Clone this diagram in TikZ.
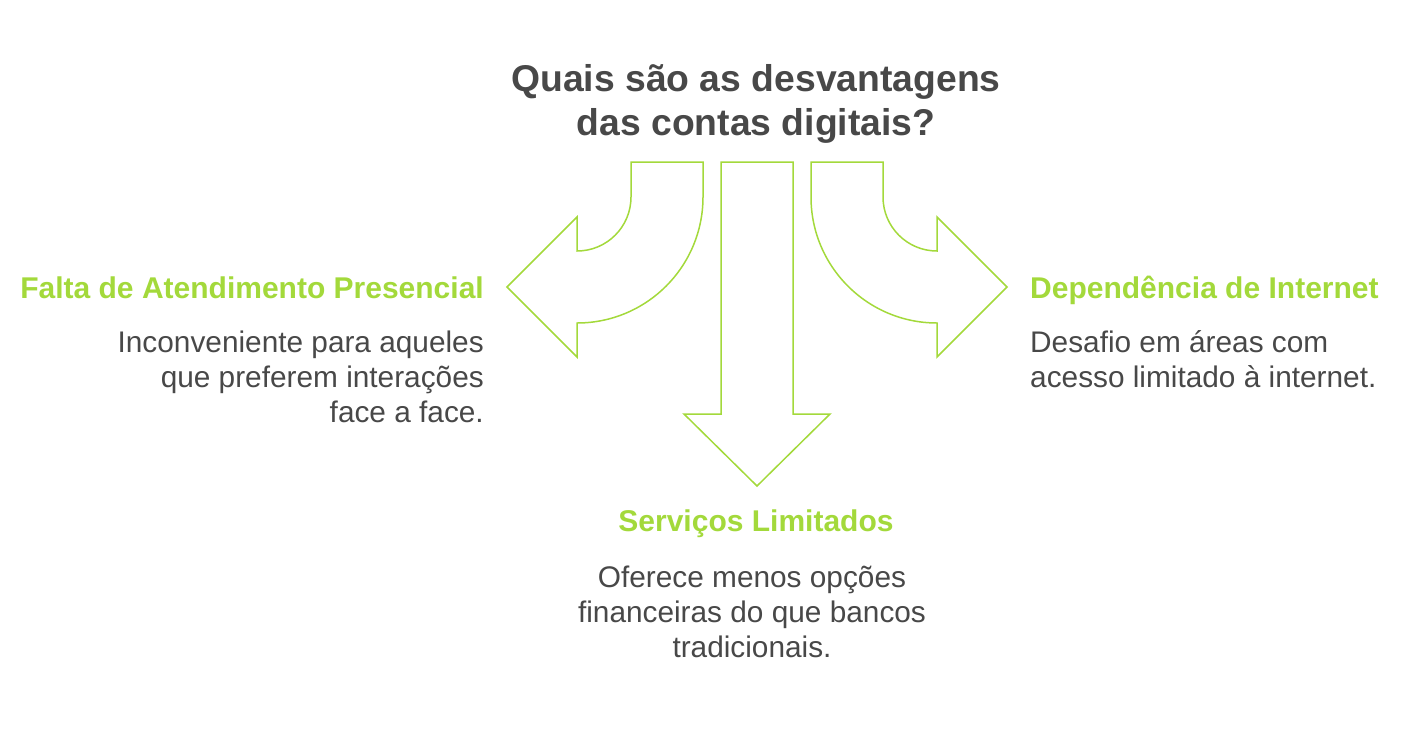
\documentclass[tikz,border=0pt]{standalone}
\usepackage{fontspec}
\setmainfont{Liberation Sans}
\usepackage{tikz}
\usetikzlibrary{calc}
\definecolor{leaf}{HTML}{A3D93B}
\definecolor{ink}{HTML}{484848}

\begin{document}
\begin{tikzpicture}[x=1pt,y=1pt,
  arrowshape/.style={draw=leaf,line width=1.5pt,line join=miter},
  title/.style={inner sep=0pt,text=ink,font=\fontsize{37.3}{44}\selectfont\bfseries,align=center},
  head/.style={inner sep=0pt,text=leaf,font=\fontsize{30}{35}\selectfont\bfseries},
  desc/.style={inner sep=0pt,text=ink,font=\fontsize{29.8}{35}\selectfont}]
  \useasboundingbox (0,0) rectangle (1424,-740);
  % question
  \node[title,anchor=base] (q) at (756,-135) {Quais são as desvantagens\\das contas digitais?};
  % left arrow
  \draw[arrowshape] (631,-162) -- (631,-197) arc[start angle=0,end angle=-90,radius=54]
    -- (577,-217) -- (507,-287) -- (577,-357) -- (577,-323)
    arc[start angle=-90,end angle=0,radius=126] -- (703,-162) -- cycle;
  % down arrow
  \draw[arrowshape] (721,-162) -- (721,-414) -- (684,-414) -- (757,-486)
    -- (830,-414) -- (793,-414) -- (793,-162) -- cycle;
  % right arrow
  \draw[arrowshape] (883,-162) -- (883,-197) arc[start angle=180,end angle=270,radius=54]
    -- (937,-217) -- (1007,-287) -- (937,-357) -- (937,-323)
    arc[start angle=270,end angle=180,radius=126] -- (811,-162) -- cycle;
  % left text
  \node[head,anchor=base east] (presencial) at (484,-298) {Falta de Atendimento Presencial};
  \node[desc,anchor=base east,align=right] (presencialtxt) at (484,-422)
    {Inconveniente para aqueles\\que preferem interações\\face a face.};
  % right text
  \node[head,anchor=base west] (internet) at (1030,-298) {Dependência de Internet};
  \node[desc,anchor=base west,align=left] (internettxt) at (1030,-387)
    {Desafio em áreas com\\acesso limitado à internet.};
  % bottom text
  \node[head,anchor=base] (servicos) at (756,-531) {Serviços Limitados};
  \node[desc,anchor=base,align=center] (servicostxt) at (752,-657)
    {Oferece menos opções\\financeiras do que bancos\\tradicionais.};
\end{tikzpicture}
\end{document}
